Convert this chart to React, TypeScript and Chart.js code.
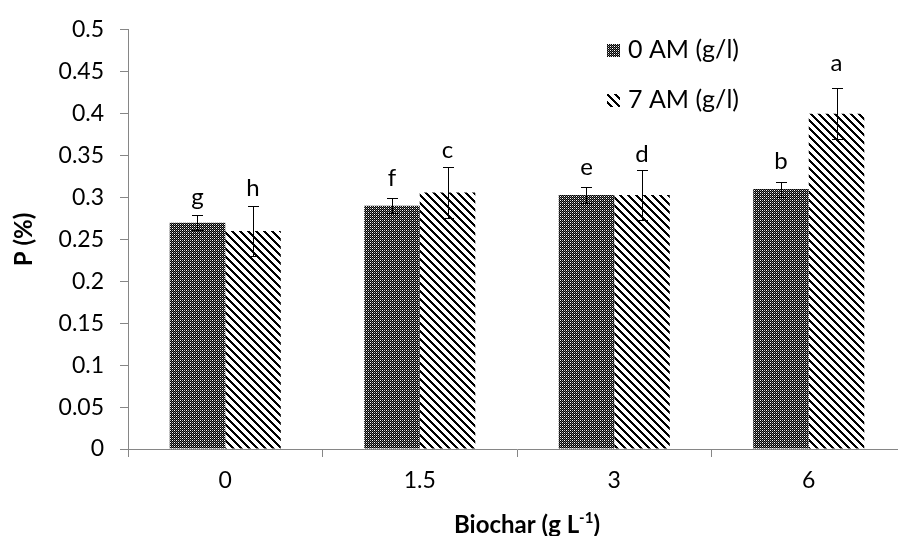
import React, { useEffect, useRef } from "react";
import { Chart, registerables } from "chart.js";
Chart.register(...registerables);

const categories = ["0", "1.5", "3", "6"];
const seriesNames = ["0 AM (g/l)", "7 AM (g/l)"];
const am0Values = [0.27, 0.29, 0.303, 0.31];
const am7Values = [0.26, 0.306, 0.303, 0.4];
const am0Errors = [0.009, 0.009, 0.01, 0.009];
const am7Errors = [0.03, 0.03, 0.03, 0.03];
const am0Letters = ["g", "f", "e", "b"];
const am7Letters = ["h", "c", "d", "a"];
const am0LetterY = [0.291, 0.314, 0.327, 0.334];
const am7LetterY = [0.302, 0.3475, 0.342, 0.451];
const yTickValues = [0, 0.05, 0.1, 0.15, 0.2, 0.25, 0.3, 0.35, 0.4, 0.45, 0.5];
const yTickLabels = ["0", "0.05", "0.1", "0.15", "0.2", "0.25", "0.3", "0.35", "0.4", "0.45", "0.5"];
const xTitle = "Biochar (g L";
const xTitleSup = "-1";
const xTitleEnd = ")";
const yTitle = "P (%)";

const FONT = "Lato, 'Open Sans', sans-serif";
const AXIS = "#868686";

function makeDotPattern(ctx: CanvasRenderingContext2D) {
  const c = document.createElement("canvas");
  c.width = 4;
  c.height = 4;
  const g = c.getContext("2d")!;
  g.fillStyle = "#000";
  g.fillRect(0, 0, 4, 4);
  g.fillStyle = "#fff";
  g.fillRect(0, 0, 1, 1);
  g.fillRect(2, 2, 1, 1);
  g.fillStyle = "#bbb";
  g.fillRect(2, 0, 1, 1);
  g.fillRect(0, 2, 1, 1);
  g.fillStyle = "#555";
  g.fillRect(1, 1, 1, 1);
  g.fillRect(3, 3, 1, 1);
  g.fillRect(1, 3, 1, 1);
  g.fillRect(3, 1, 1, 1);
  return ctx.createPattern(c, "repeat")!;
}

function makeHatchPattern(ctx: CanvasRenderingContext2D) {
  const n = 8;
  const c = document.createElement("canvas");
  c.width = n;
  c.height = n;
  const g = c.getContext("2d")!;
  g.fillStyle = "#fff";
  g.fillRect(0, 0, n, n);
  g.fillStyle = "#000";
  for (let y = 0; y < n; y++) {
    for (let x = 0; x < n; x++) {
      const d = (((x - y) % n) + n) % n;
      if (d < 3) g.fillRect(x, y, 1, 1);
    }
  }
  return ctx.createPattern(c, "repeat")!;
}

export default function App() {
  const ref = useRef<HTMLCanvasElement>(null);
  useEffect(() => {
    const canvas = ref.current!;
    const ctx0 = canvas.getContext("2d")!;
    const dot = makeDotPattern(ctx0);
    const hatch = makeHatchPattern(ctx0);
    const errors = [am0Errors, am7Errors];
    const letters = [am0Letters, am7Letters];
    const letterY = [am0LetterY, am7LetterY];
    const patterns = [dot, hatch];

    const overlay = {
      id: "overlay",
      afterDatasetsDraw(chart: any) {
        const ctx = chart.ctx as CanvasRenderingContext2D;
        const ys = chart.scales.y;
        ctx.save();
        ctx.strokeStyle = "#000";
        ctx.lineWidth = 1;
        for (let d = 0; d < 2; d++) {
          const meta = chart.getDatasetMeta(d);
          const vals = chart.data.datasets[d].data as number[];
          meta.data.forEach((el: any, i: number) => {
            const x = Math.round(el.x) + 0.5;
            const top = Math.round(ys.getPixelForValue(vals[i] + errors[d][i])) + 0.5;
            const bot = Math.round(ys.getPixelForValue(vals[i] - errors[d][i])) + 0.5;
            ctx.beginPath();
            ctx.moveTo(x, top);
            ctx.lineTo(x, bot);
            ctx.moveTo(x - 5.5, top);
            ctx.lineTo(x + 5.5, top);
            ctx.moveTo(x - 5.5, bot);
            ctx.lineTo(x + 5.5, bot);
            ctx.stroke();
            ctx.fillStyle = "#000";
            ctx.font = `24px ${FONT}`;
            ctx.textAlign = "center";
            ctx.textBaseline = "alphabetic";
            ctx.fillText(letters[d][i], el.x, ys.getPixelForValue(letterY[d][i]));
          });
        }
        ctx.restore();
      },
      afterDraw(chart: any) {
        const ctx = chart.ctx as CanvasRenderingContext2D;
        const area = chart.chartArea;
        ctx.save();
        ctx.fillStyle = "#000";
        // Legend
        ctx.font = `25px ${FONT}`;
        ctx.textAlign = "left";
        ctx.textBaseline = "middle";
        const legendY = [50, 100];
        for (let d = 0; d < 2; d++) {
          ctx.fillStyle = patterns[d];
          ctx.fillRect(607, legendY[d] - 6, 13, 13);
          ctx.fillStyle = "#000";
          ctx.fillText(seriesNames[d], 628, legendY[d]);
        }
        // X title
        ctx.font = `bold 24px ${FONT}`;
        const w1 = ctx.measureText(xTitle).width;
        const w3 = ctx.measureText(xTitleEnd).width;
        ctx.font = `bold 15px ${FONT}`;
        const w2 = ctx.measureText(xTitleSup).width;
        const total = w1 + w2 + w3;
        const cx = (area.left + area.right) / 2 + 10;
        let x = cx - total / 2;
        const base = 533;
        ctx.textBaseline = "alphabetic";
        ctx.font = `bold 24px ${FONT}`;
        ctx.fillText(xTitle, x, base);
        x += w1;
        ctx.font = `bold 15px ${FONT}`;
        ctx.fillText(xTitleSup, x, base - 10);
        x += w2;
        ctx.font = `bold 24px ${FONT}`;
        ctx.fillText(xTitleEnd, x, base);
        // Y title
        ctx.translate(24, (area.top + area.bottom) / 2);
        ctx.rotate(-Math.PI / 2);
        ctx.textAlign = "center";
        ctx.textBaseline = "middle";
        ctx.font = `bold 24px ${FONT}`;
        ctx.fillText(yTitle, 0, 0);
        ctx.restore();
      },
    };

    const chart = new Chart(canvas, {
      type: "bar",
      data: {
        labels: categories,
        datasets: [
          { label: seriesNames[0], data: am0Values, backgroundColor: dot, borderWidth: 0 },
          { label: seriesNames[1], data: am7Values, backgroundColor: hatch, borderWidth: 0 },
        ],
      },
      options: {
        responsive: false,
        animation: false,
        devicePixelRatio: 1,
        datasets: { bar: { barPercentage: 1, categoryPercentage: 0.571 } },
        layout: { padding: { left: 0, right: 14, top: 26, bottom: 0 } },
        plugins: { legend: { display: false }, tooltip: { enabled: false }, title: { display: false } },
        scales: {
          x: {
            type: "category",
            offset: true,
            grid: { display: true, drawOnChartArea: false, drawTicks: true, tickLength: 8, color: AXIS, offset: true },
            border: { color: AXIS, width: 1 },
            ticks: { color: "#000", font: { family: FONT, size: 23 }, padding: 10, maxRotation: 0 },
            afterFit(s: any) {
              s.height = 87;
            },
          },
          y: {
            min: 0,
            max: 0.5,
            grid: { display: true, drawOnChartArea: false, drawTicks: true, tickLength: 8, color: AXIS },
            border: { color: AXIS, width: 1 },
            ticks: {
              color: "#000",
              font: { family: FONT, size: 23 },
              padding: 16,
              callback: (v: any) => {
                const idx = yTickValues.findIndex((t) => Math.abs(t - Number(v)) < 1e-9);
                return idx >= 0 ? yTickLabels[idx] : "";
              },
            },
            afterBuildTicks(s: any) {
              s.ticks = yTickValues.map((v) => ({ value: v }));
            },
            afterFit(s: any) {
              s.width = 128;
            },
          },
        },
      },
      plugins: [overlay],
    });
    return () => chart.destroy();
  }, []);

  return (
    <div style={{ position: "fixed", left: 0, top: 0, width: 898, height: 536, overflow: "hidden", background: "#fff" }}>
      <canvas ref={ref} width={920} height={536} style={{ display: "block", width: 920, height: 536 }} />
    </div>
  );
}
